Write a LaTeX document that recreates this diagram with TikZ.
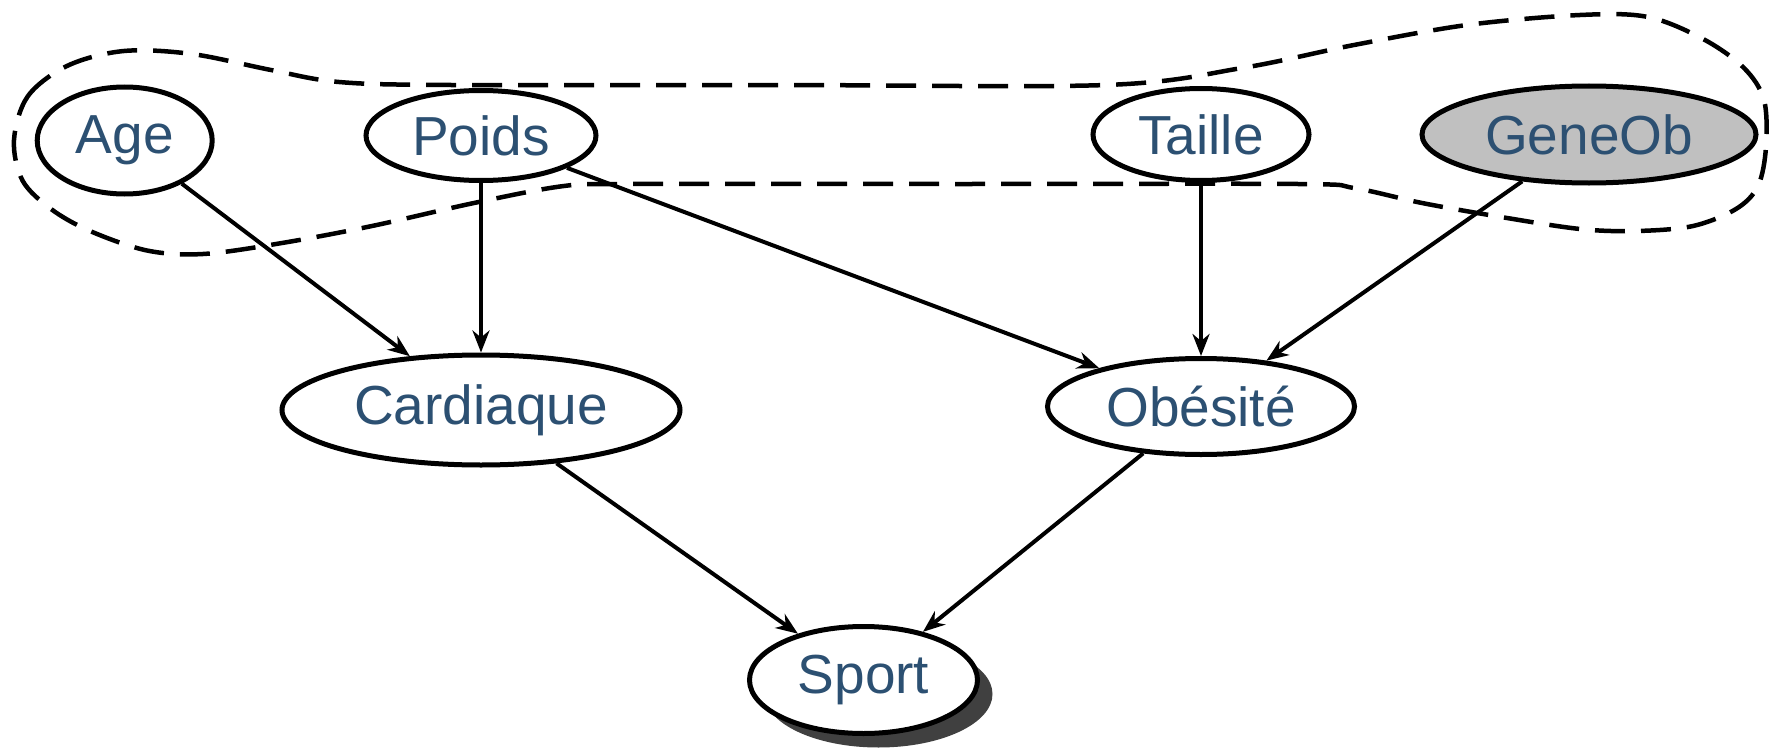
\documentclass[tikz,border=0pt]{standalone}
\usepackage{fontspec}
\setmainfont{Liberation Sans}
\usetikzlibrary{shapes.geometric,arrows.meta,shadows}
\definecolor{labelblue}{RGB}{44,80,114}
\definecolor{genegray}{RGB}{192,192,192}
\definecolor{shadowgray}{RGB}{64,64,64}
\tikzset{
  var/.style={ellipse, draw=black, line width=5pt, fill=white, inner sep=0pt,
    text=labelblue, font=\fontsize{55}{55}\selectfont},
  link/.style={line width=4pt, -{Stealth[length=22pt,width=17pt,inset=7pt]}},
  group/.style={line width=4.5pt, dash pattern=on 30pt off 16pt}
}
\begin{document}
\begin{tikzpicture}[x=1pt,y=-1pt]
\useasboundingbox (0,0) rectangle (1770,752);

% variables of the network
\node[var, minimum width=175pt, minimum height=107pt] (age) at (124.7,140.5) {Age};
\node[var, minimum width=230pt, minimum height=90pt] (poids) at (481,135.5) {Poids};
\node[var, minimum width=216pt, minimum height=92pt] (taille) at (1201,134.5) {Taille};
\node[var, fill=genegray, minimum width=334pt, minimum height=97pt] (gene) at (1589,134.5) {GeneOb};
\node[var, minimum width=398pt, minimum height=110pt] (card) at (481,410) {Cardiaque};
\node[var, minimum width=307pt, minimum height=96pt] (obes) at (1201,406.5) {Obésité};
\node[var, minimum width=228pt, minimum height=107pt,
  drop shadow={shadow xshift=15pt, shadow yshift=-14pt, fill=shadowgray, opacity=1}]
  (sport) at (863.5,680) {Sport};

% dependencies
\draw[link] (age) -- (card);
\draw[link] (poids) -- (card);
\draw[link] (poids) -- (obes);
\draw[link] (taille) -- (obes);
\draw[link] (gene) -- (obes);
\draw[link] (card) -- (sport);
\draw[link] (obes) -- (sport);

% dashed grouping of the root variables
\draw[group] plot[smooth cycle, tension=0.55] coordinates {
  (14,140) (28,96) (68,65.5) (124,51) (192,54) (271,70) (339,82) (451,85)
  (780,85) (1106,85) (1242,68) (1354,45) (1467,25) (1580,15) (1648,17)
  (1704,39.5) (1744,68) (1764,100) (1766,147) (1758,186) (1736,209)
  (1693,226) (1637,231) (1580,229) (1501,217) (1422,203) (1354,188)
  (1298,184) (965,184) (632,184) (564,186) (474,203) (372,226) (282,243)
  (203,254) (147,250.5) (90,231) (51,209) (22.5,180.5)};
\end{tikzpicture}
\end{document}
